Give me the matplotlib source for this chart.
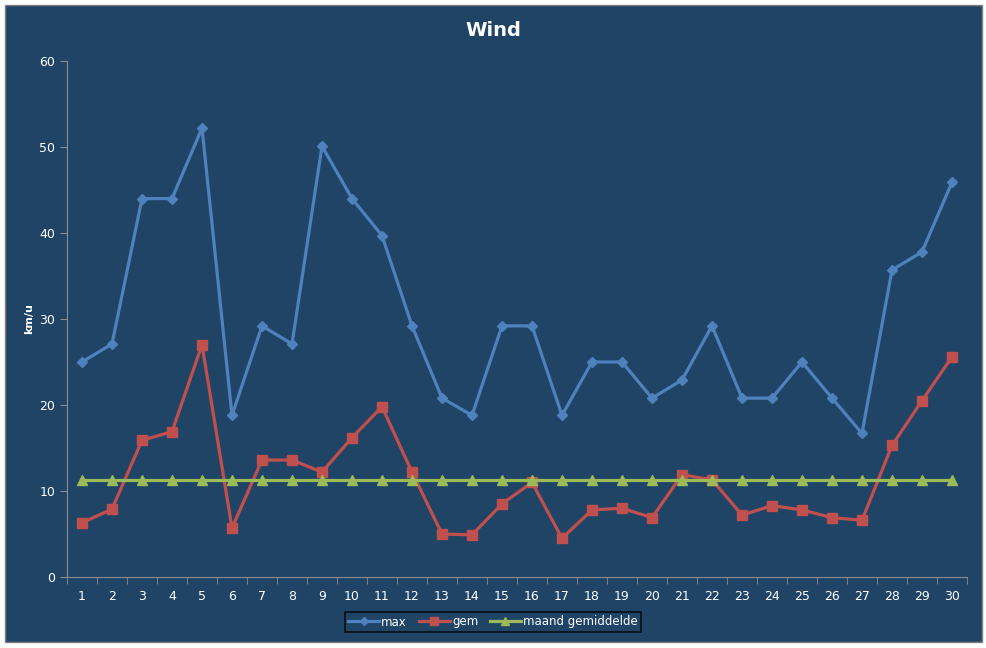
import matplotlib.pyplot as plt
import matplotlib.patches as mpatches
import numpy as np

days = list(range(1, 31))
max_wind = [25.0, 27.1, 44.0, 44.0, 52.2, 18.8, 29.2, 27.1, 50.1, 44.0,
            39.7, 29.2, 20.8, 18.8, 29.2, 29.2, 18.8, 25.0, 25.0, 20.8,
            22.9, 29.2, 20.8, 20.8, 25.0, 20.8, 16.7, 35.7, 37.8, 45.9]
gem_wind = [6.3, 7.9, 15.9, 16.9, 27.0, 5.7, 13.6, 13.6, 12.2, 16.2,
            19.8, 12.2, 5.0, 4.9, 8.5, 11.0, 4.5, 7.8, 8.0, 6.9,
            11.9, 11.3, 7.2, 8.3, 7.8, 6.9, 6.6, 15.3, 20.5, 25.6]
maand_gem = [11.3] * 30

bg = '#1f4466'
W, H = 987, 648

fig = plt.figure(figsize=(W / 100, H / 100), dpi=100)
fig.patch.set_facecolor('white')
# chart area with thin grey border
fig.add_artist(mpatches.Rectangle((5 / W, 1 - 642 / H), 977 / W, 637 / H,
                                  transform=fig.transFigure, facecolor=bg,
                                  edgecolor='#808080', linewidth=1, zorder=-10))

ax = fig.add_axes([67 / W, 1 - 577 / H, 900 / W, 516 / H])
ax.patch.set_alpha(0)

ax.plot(days, max_wind, color='#4f81bd', lw=2.3, marker='D', ms=5, label='max')
ax.plot(days, gem_wind, color='#c0504d', lw=2.3, marker='s', ms=7, label='gem')
ax.plot(days, maand_gem, color='#9bbb59', lw=2.3, marker='^', ms=7, label='maand gemiddelde')

ax.set_xlim(0.5, 30.5)
ax.set_ylim(0, 60)
ax.set_yticks(range(0, 61, 10))
ax.set_xticks(days)
ax.set_xticks(np.arange(0.5, 31, 1), minor=True)
ax.tick_params(axis='x', which='major', length=0, colors='white', labelsize=9, pad=9)
ax.tick_params(axis='x', which='minor', length=5, color='#8c8c8c', direction='out')
ax.tick_params(axis='y', length=5, color='#8c8c8c', labelcolor='white', labelsize=9)

for s in ['top', 'right']:
    ax.spines[s].set_visible(False)
for s in ['left', 'bottom']:
    ax.spines[s].set_color('#8c8c8c')

ax.set_ylabel('km/u', color='white', fontsize=8, fontweight='bold', labelpad=4)
fig.text(0.5, 1 - 31 / H, 'Wind', color='white', fontsize=14, fontweight='bold',
         ha='center', va='center')

leg = fig.legend(loc='center', bbox_to_anchor=(493 / W, 1 - 622 / H), ncol=3,
                 frameon=True, fontsize=8.5, handlelength=2.6, columnspacing=1.0,
                 borderpad=0.3, fancybox=False, labelcolor='white', handletextpad=0.2,
                 markerscale=0.8)
leg.get_frame().set_facecolor(bg)
leg.get_frame().set_edgecolor('black')
leg.get_frame().set_linewidth(1.2)

fig.savefig('out.png', dpi=100)
